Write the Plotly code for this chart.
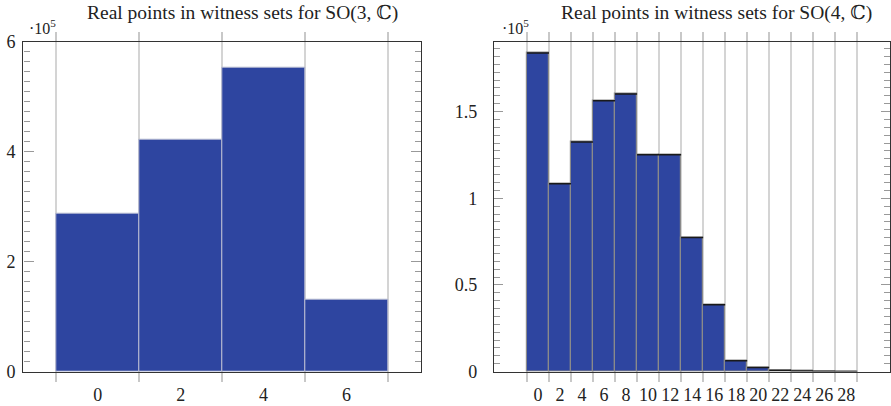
import plotly.graph_objects as go

# ---- data (values in units of 10^5) ----
so3_bins = [0, 2, 4, 6]
so3_counts = [2.88, 4.21, 5.52, 1.30]

so4_bins = [0, 2, 4, 6, 8, 10, 12, 14, 16, 18, 20, 22, 24, 26, 28]
so4_counts = [1.838, 1.084, 1.325, 1.563, 1.601, 1.251, 1.251, 0.773, 0.385,
              0.062, 0.023, 0.008, 0.003, 0.002, 0.001]

so3_ticks = [0, 2, 4, 6]
so3_tick_labels = ["0", "2", "4", "6"]
so4_ticks = list(range(0, 29, 2))
so4_tick_labels = [str(v) for v in so4_ticks]
so3_edges = [-1, 1, 3, 5, 7]
so4_edges = list(range(-1, 30, 2))
so3_yticks = [0, 2, 4, 6]
so4_yticks = [0, 0.5, 1, 1.5]
so4_ytick_labels = ["0", "0.5", "1", "1.5"]

title_left = "Real points in witness sets for SO(3, ℂ)"
title_right = "Real points in witness sets for SO(4, ℂ)"

W, H = 891, 406
FONT = "Liberation Serif, DejaVu Serif, serif"
BLUE = "#2E45A0"
BIN_W = 2
TXT = "#222222"

fig = go.Figure()

fig.add_trace(go.Bar(x=so3_bins, y=so3_counts, width=BIN_W,
                     marker=dict(color=BLUE, line=dict(color="#b9bdd2", width=1)),
                     xaxis="x", yaxis="y", showlegend=False))
fig.add_trace(go.Bar(x=so4_bins, y=so4_counts, width=BIN_W,
                     marker=dict(color=BLUE, line=dict(color="#8a8a8a", width=1.2)),
                     xaxis="x2", yaxis="y2", showlegend=False))
# dark top edges of SO(4) bars
tx, ty = [], []
for b, c in zip(so4_bins, so4_counts):
    tx += [b - BIN_W / 2, b + BIN_W / 2, None]
    ty += [c, c, None]
fig.add_trace(go.Scatter(x=tx, y=ty, mode="lines", line=dict(color="#1a1a1a", width=1.5),
                         xaxis="x2", yaxis="y2", showlegend=False, hoverinfo="skip"))

def px(x):
    return x / W

def py(y):
    return 1 - y / H

axis_common = dict(showline=True, linecolor="#333333", linewidth=1.4, zeroline=False,
                   automargin=False,
                   tickfont=dict(family=FONT, size=18, color=TXT))

xl = dict(axis_common, domain=[px(23.3), px(421)], range=[-1.8, 7.8],
          tickvals=so3_ticks, ticktext=so3_tick_labels, ticks="", showgrid=False,
          mirror="ticks", ticklabelstandoff=7,
          minor=dict(tickvals=so3_edges, ticks="outside", ticklen=9, tickcolor="#c8c8c8",
                     tickwidth=1.5, showgrid=True, gridcolor="#d4d4d4", gridwidth=1.5))
xr = dict(axis_common, domain=[px(494), px(890.3)], range=[-4, 32],
          tickvals=so4_ticks, ticktext=so4_tick_labels, ticks="", showgrid=False,
          mirror="ticks", ticklabelstandoff=7,
          minor=dict(tickvals=so4_edges, ticks="outside", ticklen=9, tickcolor="#c8c8c8",
                     tickwidth=1.5, showgrid=True, gridcolor="#d4d4d4", gridwidth=1.5))
yl = dict(axis_common, domain=[py(371.6), py(41.7)], range=[0, 6],
          tickvals=so3_yticks, ticks="inside", ticklen=10, tickcolor="#999999",
          tickwidth=1.2, mirror="ticks", showgrid=False, ticklabelstandoff=3,
          minor=dict(tick0=0, dtick=2 / 11, ticks="inside", ticklen=6,
                     tickcolor="#999999", tickwidth=1, showgrid=False))
yr = dict(axis_common, domain=[py(371.6), py(41.7)], range=[0, 1.903],
          tickvals=so4_yticks, ticktext=so4_ytick_labels,
          ticks="inside", ticklen=9, tickcolor="#999999",
          tickwidth=1.2, mirror="ticks", showgrid=False, ticklabelstandoff=12,
          minor=dict(tick0=0, dtick=0.5 / 11, ticks="inside", ticklen=6,
                     tickcolor="#999999", tickwidth=1, showgrid=False))

fig.update_layout(
    template="none",
    width=W, height=H,
    autosize=False,
    margin=dict(l=0, r=0, t=0, b=0, pad=0, autoexpand=False),
    paper_bgcolor="white", plot_bgcolor="white",
    bargap=0,
    xaxis=xl, yaxis=dict(yl, anchor="x"),
    xaxis2=dict(xr, anchor="y2"), yaxis2=dict(yr, anchor="x2"),
    font=dict(family=FONT, color=TXT),
    annotations=[
        dict(text=title_left, x=px(242), y=py(13), xref="paper", yref="paper",
             showarrow=False, font=dict(family=FONT, size=19.5, color=TXT),
             xanchor="center", yanchor="middle"),
        dict(text=title_right, x=px(716), y=py(13), xref="paper", yref="paper",
             showarrow=False, font=dict(family=FONT, size=19.5, color=TXT),
             xanchor="center", yanchor="middle"),
        dict(text="·10<sup>5</sup>", x=px(27), y=py(27), xref="paper", yref="paper",
             showarrow=False, font=dict(family=FONT, size=16, color=TXT),
             xanchor="left", yanchor="middle"),
        dict(text="·10<sup>5</sup>", x=px(500), y=py(27), xref="paper", yref="paper",
             showarrow=False, font=dict(family=FONT, size=16, color=TXT),
             xanchor="left", yanchor="middle"),
    ],
)

fig.write_html("out.html", config={"displayModeBar": False},
               post_script="document.body.style.margin='0';document.body.style.padding='0';")
